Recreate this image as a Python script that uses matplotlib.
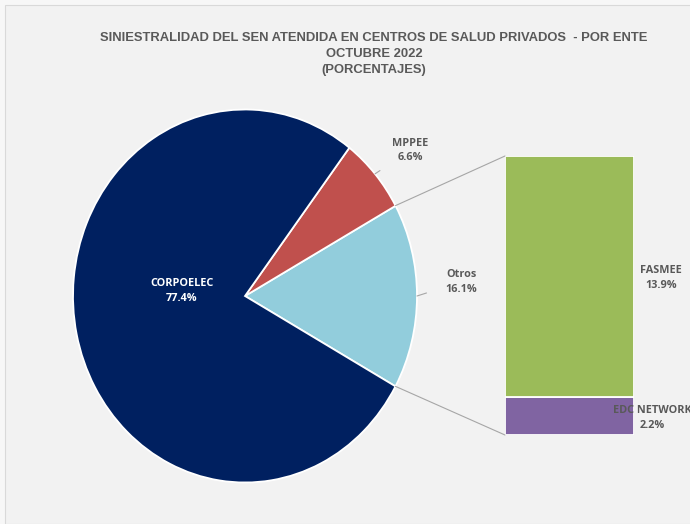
import numpy as np
import matplotlib.pyplot as plt
from matplotlib.patches import Rectangle, ConnectionPatch

# data
pie_labels = ['Otros', 'MPPEE', 'CORPOELEC']
pie_values = [16.1, 6.6, 77.4]
pie_colors = ['#92cddc', '#c0504d', '#002060']

bar_labels = ['EDC NETWORK', 'FASMEE']
bar_values = [2.2, 13.9]
bar_colors = ['#8064a2', '#9bbb59']

title = ('SINIESTRALIDAD DEL SEN ATENDIDA EN CENTROS DE SALUD PRIVADOS  - POR ENTE\n'
         'OCTUBRE 2022\n(PORCENTAJES)')

W, H = 690, 524
txt = '#595959'
line_c = '#a6a6a6'
lab_font = 'Open Sans'
lab_size = 7.8

fig = plt.figure(figsize=(W / 100, H / 100), dpi=100)
fig.patch.set_facecolor('#f7f7f7')
fig.patches.append(Rectangle((5 / W, 0.5 / H), 1.0, (H - 5) / H, transform=fig.transFigure,
                             facecolor='#f2f2f2', edgecolor='#d9d9d9', lw=0.8, zorder=-5))


def px_axes(x0, y0, x1, y1):
    # pixel box (top-left origin) -> figure axes
    return fig.add_axes([x0 / W, 1 - y1 / H, (x1 - x0) / W, (y1 - y0) / H])


fig.text(374 / W, 1 - 32 / H, title, ha='center', va='top', fontsize=9.4,
         fontweight='bold', color=txt, family='Liberation Sans', linespacing=1.42)

# pie (stretched vertically like the reference)
ax = px_axes(73, 109.5, 417, 482.5)
start = -pie_values[0] / 100 * 360 / 2
wedges, _ = ax.pie(pie_values, colors=pie_colors, startangle=start, counterclock=True,
                   radius=1, wedgeprops=dict(edgecolor='white', linewidth=1.3))
ax.set_aspect('auto')
ax.set_xlim(-1, 1)
ax.set_ylim(-1, 1)
ax.axis('off')

ax.text(-0.366, 0.027, '%s\n%.1f%%' % (pie_labels[2], pie_values[2]), ha='center', va='center',
        color='white', fontsize=lab_size, fontweight='bold', family=lab_font, linespacing=1.45)
ax.annotate('%s\n%.1f%%' % (pie_labels[1], pie_values[1]), xy=(0.756, 0.655), xytext=(0.96, 0.78),
            ha='center', va='center', color=txt, fontsize=lab_size, fontweight='bold',
            family=lab_font, linespacing=1.45,
            arrowprops=dict(arrowstyle='-', color=line_c, lw=0.8, shrinkA=8, shrinkB=0))
ax.annotate('%s\n%.1f%%' % (pie_labels[0], pie_values[0]), xy=(1.0, 0.0), xytext=(1.256, 0.075),
            ha='center', va='center', color=txt, fontsize=lab_size, fontweight='bold',
            family=lab_font, linespacing=1.45, annotation_clip=False,
            arrowprops=dict(arrowstyle='-', color=line_c, lw=0.8, shrinkA=12, shrinkB=0))

# bar of pie
bx = px_axes(505, 156, 634, 435)
bottom = 0
for v, c in zip(bar_values, bar_colors):
    bx.bar(0, v, width=1, bottom=bottom, color=c, edgecolor='white', linewidth=1.3)
    bottom += v
bx.set_xlim(-0.5, 0.5)
bx.set_ylim(0, sum(bar_values))
bx.axis('off')

bx.text(0.709, 9.06, '%s\n%.1f%%' % (bar_labels[1], bar_values[1]), ha='center', va='center',
        color=txt, fontsize=lab_size, fontweight='bold', family=lab_font, linespacing=1.45,
        clip_on=False)
bx.text(0.64, 0.98, '%s\n%.1f%%' % (bar_labels[0], bar_values[0]), ha='center', va='center',
        color=txt, fontsize=lab_size, fontweight='bold', family=lab_font, linespacing=1.45,
        clip_on=False)

# connector lines between Otros slice and the bar
a1 = np.deg2rad(start)
a2 = np.deg2rad(start + pie_values[0] / 100 * 360)
for a, yb in [(a2, sum(bar_values)), (a1, 0)]:
    con = ConnectionPatch(xyA=(np.cos(a), np.sin(a)), coordsA=ax.transData,
                          xyB=(-0.5, yb), coordsB=bx.transData, color=line_c, lw=0.8)
    fig.add_artist(con)

fig.savefig('out.png', dpi=100, facecolor=fig.get_facecolor())
